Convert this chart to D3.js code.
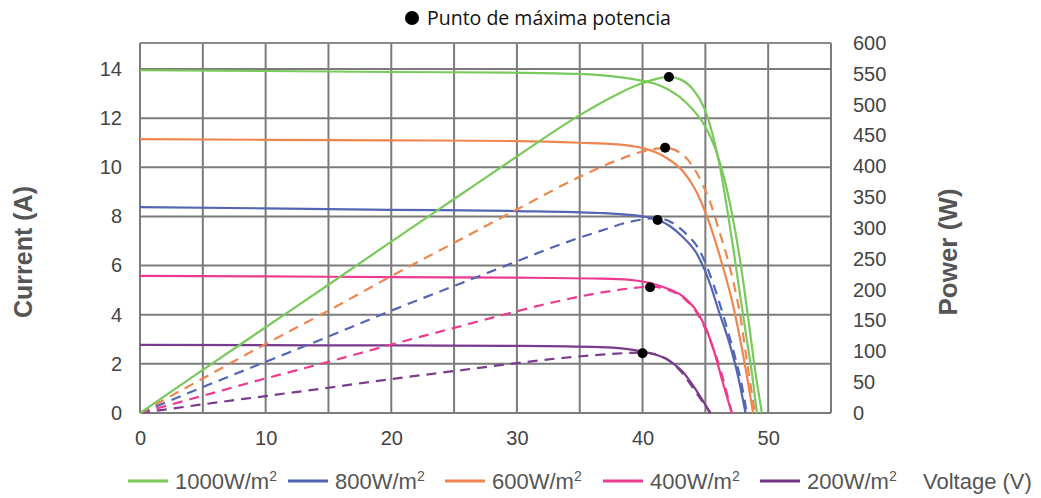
<!DOCTYPE html>
<meta charset="utf-8">
<head>
<script src="https://d3js.org/d3.v7.min.js"></script>
<style>
  body { margin: 0; background: #fff; }
  svg { display: block; }
  .tick text { font-family: "Liberation Sans", Arial, sans-serif; font-size: 20px; fill: #444; }
  .axis-title { font-family: "Liberation Sans", Arial, sans-serif; font-weight: bold; fill: #555; }
  .legend text { font-family: "Liberation Sans", Arial, sans-serif; font-size: 22px; fill: #555; }
</style>
</head>
<body>
<div class="viz"></div>
<script>
var width = 1041, height = 498;

// legend / series names
var series = ["1000W/m", "800W/m", "600W/m", "400W/m", "200W/m"];
var legendColors = ["#79c95b", "#4f62b0", "#ef8650", "#ec3b8f", "#74338a"];

var xTicks = [0, 10, 20, 30, 40, 50];
var currentTicks = [0, 2, 4, 6, 8, 10, 12, 14];
var powerTicks = [0, 50, 100, 150, 200, 250, 300, 350, 400, 450, 500, 550, 600];

// I-V curves, [voltage, current]
var greenIV = [[0,13.95],[10,13.92],[20,13.88],[30,13.85],[35,13.8],[38,13.68],[40,13.52],[41,13.4],[42,13.18],[43,12.85],[44,12.35],[45,11.65],[45.8,10.75],[46.5,9.55],[47.2,7.9],[47.8,6.1],[48.4,3.9],[49,1.6],[49.5,0]];
var orangeIV = [[0,11.15],[10,11.12],[20,11.1],[30,11.07],[35,11.0],[38,10.93],[40,10.78],[41,10.62],[42,10.35],[43.2,9.85],[44.3,9.0],[45.2,7.9],[46.2,6.3],[47.2,4.4],[48.1,2.1],[48.8,0]];
var blueIV = [[0,8.38],[10,8.33],[20,8.27],[30,8.22],[36.6,8.14],[40,8.0],[41.1,7.88],[42.2,7.6],[43.2,7.16],[44.3,6.5],[45.2,5.5],[46.1,4.1],[47,2.69],[47.6,1.5],[48.2,0]];
var pinkIV = [[0,5.58],[10,5.56],[20,5.53],[30,5.51],[36.6,5.47],[39,5.42],[40.5,5.3],[41.8,5.1],[43.2,4.75],[44.3,4.15],[45.1,3.38],[45.7,2.5],[46.4,1.22],[47.1,0]];
var purpleIV = [[0,2.77],[10,2.76],[20,2.75],[30,2.73],[36.6,2.68],[38.5,2.62],[40,2.5],[41,2.38],[42,2.17],[43.2,1.68],[44.3,0.9],[45.4,0]];

// P-V curves, [voltage, power]
var greenPV = [[0,0],[5,70],[10,139],[15,208],[20,278],[25,347],[30,416],[35,483],[38,517],[40,535],[42.1,545],[43,541],[44,525],[44.9,495],[45.6,450],[46.2,395],[46.7,335],[47.2,270],[47.7,200],[48.2,132],[48.7,65],[49.1,0]];
var orangePV = [[0,0],[5,56],[10,112],[15,166],[20,222],[25,276],[30,330],[35,383],[38,410],[40,424],[41.8,430],[43,422],[44,400],[44.8,370],[45.5,335],[46.1,295],[46.7,255],[47.2,215],[47.8,155],[48.3,85],[48.95,0]];
var bluePV = [[0,0],[5,42],[10,83],[15,124],[20,166],[25,206],[30,246],[33,270],[36.6,295],[39,310],[41.2,316],[42.4,308],[43.5,290],[44.5,265],[45.3,228],[46.1,180],[46.8,132],[47.4,88],[47.9,45],[48.3,0]];
var pinkPV = [[0,0],[5,28],[10,56],[15,83],[20,111],[25,138],[30,165],[33,180],[36.6,195],[39,202],[40.6,205],[42,200],[43.3,186],[44.4,160],[45.3,122],[46.2,70],[47.1,0]];
var purplePV = [[0,0],[5,14],[10,27.5],[15,41],[20,55],[25,68],[30,81],[34,90],[37,95],[40,98],[41.2,94],[42.2,84],[43.2,64],[44.3,32],[45.4,0]];

// maximum power points, [voltage, power]
var mpp = [[42.1,545],[41.8,430],[41.2,313],[40.6,204],[40.0,97]];

var curves = [
  {iv: greenIV, pv: greenPV, color: "#79c95b", dashed: false},
  {iv: orangeIV, pv: orangePV, color: "#ef8650", dashed: true},
  {iv: blueIV, pv: bluePV, color: "#5266b4", dashed: true},
  {iv: pinkIV, pv: pinkPV, color: "#ec3b8f", dashed: true},
  {iv: purpleIV, pv: purplePV, color: "#7a3b8c", dashed: true}
];

var svg = d3.select("div.viz").append("svg")
  .attr("width", width)
  .attr("height", height);

var x = d3.scaleLinear().domain([0, 55]).range([140, 831]);
var yI = d3.scaleLinear().domain([0, 15.06]).range([413, 43]);
var yP = d3.scaleLinear().domain([0, 600]).range([413, 43]);

// grid
var grid = svg.append("g");
grid.selectAll("line.v")
  .data(d3.range(0, 56, 5))
  .enter().append("line")
  .attr("x1", d => x(d)).attr("x2", d => x(d))
  .attr("y1", yP(600)).attr("y2", yI(0))
  .style("stroke", "#7b7b7b").style("stroke-width", 2);
grid.selectAll("line.h")
  .data(currentTicks)
  .enter().append("line")
  .attr("x1", x(0)).attr("x2", x(55))
  .attr("y1", d => yI(d)).attr("y2", d => yI(d))
  .style("stroke", "#7b7b7b").style("stroke-width", 2);
grid.append("line")
  .attr("x1", x(0)).attr("x2", x(55))
  .attr("y1", yP(600)).attr("y2", yP(600))
  .style("stroke", "#8a8a8a").style("stroke-width", 2);

// axes
svg.append("g").attr("transform", "translate(0," + yI(0) + ")")
  .call(d3.axisBottom(x).tickValues(xTicks).tickSize(0).tickPadding(18));
svg.append("g").attr("transform", "translate(" + x(0) + ",0)")
  .call(d3.axisLeft(yI).tickValues(currentTicks).tickSize(0).tickPadding(18));
svg.append("g").attr("transform", "translate(" + x(55) + ",0)")
  .call(d3.axisRight(yP).tickValues(powerTicks).tickSize(0).tickPadding(22));
svg.selectAll(".domain").remove();

// curves
var lineI = d3.line().x(d => x(d[0])).y(d => yI(d[1])).curve(d3.curveMonotoneX);
var lineP = d3.line().x(d => x(d[0])).y(d => yP(d[1])).curve(d3.curveMonotoneX);

curves.slice().reverse().forEach(function(c) {
  svg.append("path").attr("d", lineI(c.iv))
    .style("fill", "none").style("stroke", c.color).style("stroke-width", 2.2);
  svg.append("path").attr("d", lineP(c.pv))
    .style("fill", "none").style("stroke", c.color).style("stroke-width", 2.2)
    .style("stroke-dasharray", c.dashed ? "10,7" : null);
});

svg.selectAll("circle.mpp")
  .data(mpp)
  .enter().append("circle")
  .attr("cx", d => x(d[0])).attr("cy", d => yP(d[1]))
  .attr("r", 5)
  .style("fill", "#000");

// axis titles
svg.append("text").attr("class", "axis-title")
  .attr("transform", "translate(32,252) rotate(-90)")
  .attr("text-anchor", "middle")
  .style("font-size", "25px")
  .text("Current (A)");
svg.append("text").attr("class", "axis-title")
  .attr("transform", "translate(957,252) rotate(-90)")
  .attr("text-anchor", "middle")
  .style("font-size", "26px")
  .text("Power (W)");

// top note
svg.append("circle").attr("cx", 412).attr("cy", 18).attr("r", 7).style("fill", "#000");
svg.append("text")
  .attr("x", 427).attr("y", 25)
  .style("font-family", "'Open Sans', 'Noto Sans', sans-serif")
  .style("font-size", "19.5px")
  .style("fill", "#111")
  .text("Punto de máxima potencia");

// legend
var legendX = [128, 288, 445, 603, 760];
var legend = svg.append("g").attr("class", "legend");
series.forEach(function(s, i) {
  legend.append("line")
    .attr("x1", legendX[i]).attr("x2", legendX[i] + 40)
    .attr("y1", 481).attr("y2", 481)
    .style("stroke", legendColors[i]).style("stroke-width", 3);
  var t = legend.append("text").attr("x", legendX[i] + 47).attr("y", 489);
  t.append("tspan").text(s);
  t.append("tspan").attr("dy", -8).style("font-size", "14px").text("2");
});
legend.append("text").attr("x", 923).attr("y", 489).text("Voltage (V)");
</script>
</body>
